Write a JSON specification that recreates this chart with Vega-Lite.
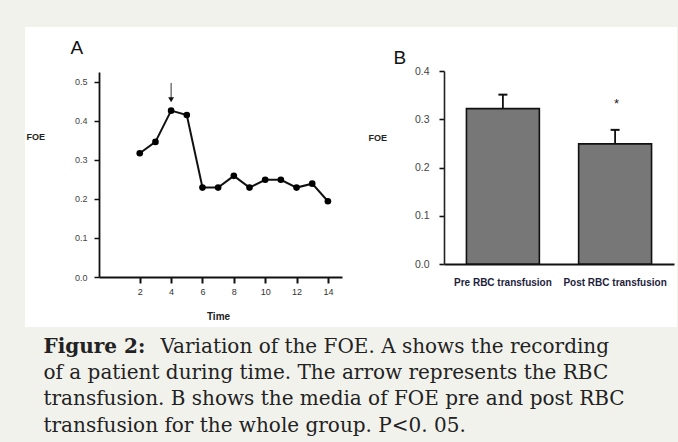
{
  "$schema": "https://vega.github.io/schema/vega-lite/v6.json",
  "width": 652,
  "height": 300,
  "autosize": "none",
  "padding": {"left": 25, "top": 27, "right": 1, "bottom": 115},
  "background": "#f2f2ed",
  "view": {"fill": "white", "stroke": null},
  "resolve": {"scale": {"x": "independent", "y": "independent"}},
  "layer": [
    {
      "data": {"values": [
        {"t": 2, "foe": 0.317}, {"t": 3, "foe": 0.346}, {"t": 4, "foe": 0.426},
        {"t": 5, "foe": 0.415}, {"t": 6, "foe": 0.229}, {"t": 7, "foe": 0.229},
        {"t": 8, "foe": 0.259}, {"t": 9, "foe": 0.229}, {"t": 10, "foe": 0.249},
        {"t": 11, "foe": 0.249}, {"t": 12, "foe": 0.229}, {"t": 13, "foe": 0.239},
        {"t": 14, "foe": 0.194}
      ]},
      "encoding": {
        "x": {"field": "t", "type": "quantitative",
          "scale": {"domain": [-0.6, 14.9], "range": [74, 317], "nice": false, "zero": false},
          "axis": {"orient": "bottom", "offset": -50, "values": [2, 4, 6, 8, 10, 12, 14],
            "grid": false, "domainColor": "#111", "domainWidth": 1.8,
            "tickColor": "#111", "tickWidth": 2, "tickSize": 6,
            "labelFont": "Liberation Sans", "labelFontSize": 9, "labelColor": "#333", "labelPadding": 4,
            "title": "Time", "titleFont": "Liberation Sans", "titleFontSize": 10, "titleFontWeight": "bold",
            "titleColor": "#222", "titleX": 193, "titleY": 39, "titleAlign": "center", "titleBaseline": "middle"}},
        "y": {"field": "foe", "type": "quantitative",
          "scale": {"domain": [0, 0.525], "range": [250, 45], "nice": false, "zero": false},
          "axis": {"orient": "left", "offset": -74, "values": [0, 0.1, 0.2, 0.3, 0.4, 0.5], "format": ".1f",
            "grid": false, "domainColor": "#111", "domainWidth": 1.8,
            "tickColor": "#111", "tickWidth": 1.5, "tickSize": 5,
            "labelFont": "Liberation Sans", "labelFontSize": 9, "labelColor": "#444", "labelPadding": 7,
            "title": "FOE", "titleFont": "Liberation Sans", "titleFontSize": 9, "titleFontWeight": "bold",
            "titleColor": "#222", "titleAngle": 0, "titleX": -73, "titleY": 109, "titleAlign": "left", "titleBaseline": "middle"}}
      },
      "layer": [
        {"mark": {"type": "line", "color": "#111", "strokeWidth": 2}},
        {"mark": {"type": "point", "filled": true, "color": "#000", "size": 44, "opacity": 1}}
      ]
    },
    {
      "data": {"values": [{"t": 4, "from": 0.497, "to": 0.454}]},
      "mark": {"type": "rule", "color": "#333", "strokeWidth": 1},
      "encoding": {
        "x": {"field": "t", "type": "quantitative",
          "scale": {"domain": [-0.6, 14.9], "range": [74, 317], "nice": false, "zero": false},
          "axis": {"orient": "top", "domain": false, "ticks": false, "labels": false, "grid": false,
            "title": "A", "titleFont": "Liberation Sans", "titleFontSize": 19, "titleFontWeight": "normal",
            "titleColor": "#111", "titleX": 45, "titleY": 26, "titleAlign": "left", "titleBaseline": "alphabetic"}},
        "y": {"field": "from", "type": "quantitative",
          "scale": {"domain": [0, 0.525], "range": [250, 45], "nice": false, "zero": false},
          "axis": {"orient": "left", "offset": 0, "domain": false, "ticks": false, "labels": false, "grid": false,
            "title": "Figure 2:", "titleFont": "DejaVu Serif", "titleFontSize": 20,
            "titleFontWeight": "bold", "titleColor": "#222222", "titleAngle": 0,
            "titleX": 18, "titleY": 325, "titleAlign": "left", "titleBaseline": "alphabetic"}},
        "y2": {"field": "to"}
      }
    },
    {
      "data": {"values": [{"t": 4, "from": 0.497, "to": 0.454}]},
      "mark": {"type": "point", "shape": "triangle-down", "filled": true, "color": "#111", "size": 34, "opacity": 1},
      "encoding": {
        "x": {"field": "t", "type": "quantitative",
          "scale": {"domain": [-0.6, 14.9], "range": [74, 317], "nice": false, "zero": false},
          "axis": null},
        "y": {"field": "to", "type": "quantitative",
          "scale": {"domain": [0, 0.525], "range": [250, 45], "nice": false, "zero": false},
          "axis": {"orient": "left", "offset": 0, "domain": false, "ticks": false, "labels": false, "grid": false,
            "title": "Variation of the FOE. A shows the recording", "titleFont": "DejaVu Serif", "titleFontSize": 20,
            "titleFontWeight": "normal", "titleColor": "#222222", "titleAngle": 0,
            "titleX": 135, "titleY": 325, "titleAlign": "left", "titleBaseline": "alphabetic"}}
      }
    },
    {
      "data": {"values": [
        {"group": "Pre RBC transfusion", "mean": 0.322, "upper": 0.351, "sig": ""},
        {"group": "Post RBC transfusion", "mean": 0.249, "upper": 0.278, "sig": "*"}
      ]},
      "encoding": {
        "x": {"field": "group", "type": "nominal", "sort": null,
          "scale": {"domain": ["Pre RBC transfusion", "Post RBC transfusion"], "range": [419, 649],
            "paddingInner": 0.35, "paddingOuter": 0.2},
          "axis": {"orient": "bottom", "offset": -63, "grid": false, "domainColor": "#111", "domainWidth": 1.8,
            "ticks": false, "tickSize": 0, "labelAngle": 0,
            "labelFont": "Liberation Sans", "labelFontSize": 10, "labelFontWeight": "bold", "labelColor": "#1e1e3c",
            "labelPadding": 13, "title": null}}
      },
      "layer": [
        {"mark": {"type": "rule", "color": "#111", "strokeWidth": 1.8},
          "encoding": {
            "y": {"field": "mean", "type": "quantitative"},
            "y2": {"field": "upper"}}},
        {"mark": {"type": "tick", "color": "#111", "thickness": 2, "size": 9, "opacity": 1},
          "encoding": {
            "y": {"field": "upper", "type": "quantitative"}}},
        {"mark": {"type": "bar", "color": "#777777", "stroke": "#111", "strokeWidth": 1.6},
          "encoding": {
            "y": {"field": "mean", "type": "quantitative",
              "scale": {"domain": [0, 0.4], "range": [237, 44], "nice": false, "zero": false},
              "axis": {"orient": "left", "offset": -419, "values": [0, 0.1, 0.2, 0.3, 0.4], "format": ".1f",
                "grid": false, "domainColor": "#222", "domainWidth": 1.6,
                "tickColor": "#111", "tickWidth": 1.6, "tickSize": 5,
                "labelFont": "Liberation Sans", "labelFontSize": 10.5, "labelColor": "#444", "labelPadding": 10,
                "title": "FOE", "titleFont": "Liberation Sans", "titleFontSize": 9, "titleFontWeight": "bold",
                "titleColor": "#222", "titleAngle": 0, "titleX": -76, "titleY": 110, "titleAlign": "left", "titleBaseline": "middle"}}}}
      ]
    },
    {
      "data": {"values": [
        {"group": "Pre RBC transfusion", "mean": 0.322, "upper": 0.351, "sig": ""},
        {"group": "Post RBC transfusion", "mean": 0.249, "upper": 0.278, "sig": "*"}
      ]},
      "mark": {"type": "text", "font": "Liberation Sans", "fontSize": 13, "color": "#222", "dy": -22, "baseline": "alphabetic"},
      "encoding": {
        "x": {"field": "group", "type": "nominal", "sort": null,
          "scale": {"domain": ["Pre RBC transfusion", "Post RBC transfusion"], "range": [419, 649],
            "paddingInner": 0.35, "paddingOuter": 0.2},
          "axis": {"orient": "top", "domain": false, "ticks": false, "labels": false, "grid": false,
            "title": "B", "titleFont": "Liberation Sans", "titleFontSize": 19, "titleFontWeight": "normal",
            "titleColor": "#111", "titleX": 368, "titleY": 36, "titleAlign": "left", "titleBaseline": "alphabetic"}},
        "y": {"field": "upper", "type": "quantitative",
          "scale": {"domain": [0, 0.4], "range": [237, 44], "nice": false, "zero": false},
          "axis": {"orient": "left", "offset": 0, "domain": false, "ticks": false, "labels": false, "grid": false,
            "title": ["of a patient during time. The arrow represents the RBC",
                      "transfusion. B shows the media of FOE pre and post RBC",
                      "transfusion for the whole group. P<0. 05."],
            "titleFont": "DejaVu Serif", "titleFontSize": 20, "titleLineHeight": 26.5,
            "titleFontWeight": "normal", "titleColor": "#222222", "titleAngle": 0,
            "titleX": 18, "titleY": 351, "titleAlign": "left", "titleBaseline": "alphabetic"}},
        "text": {"field": "sig"}
      }
    }
  ]
}
